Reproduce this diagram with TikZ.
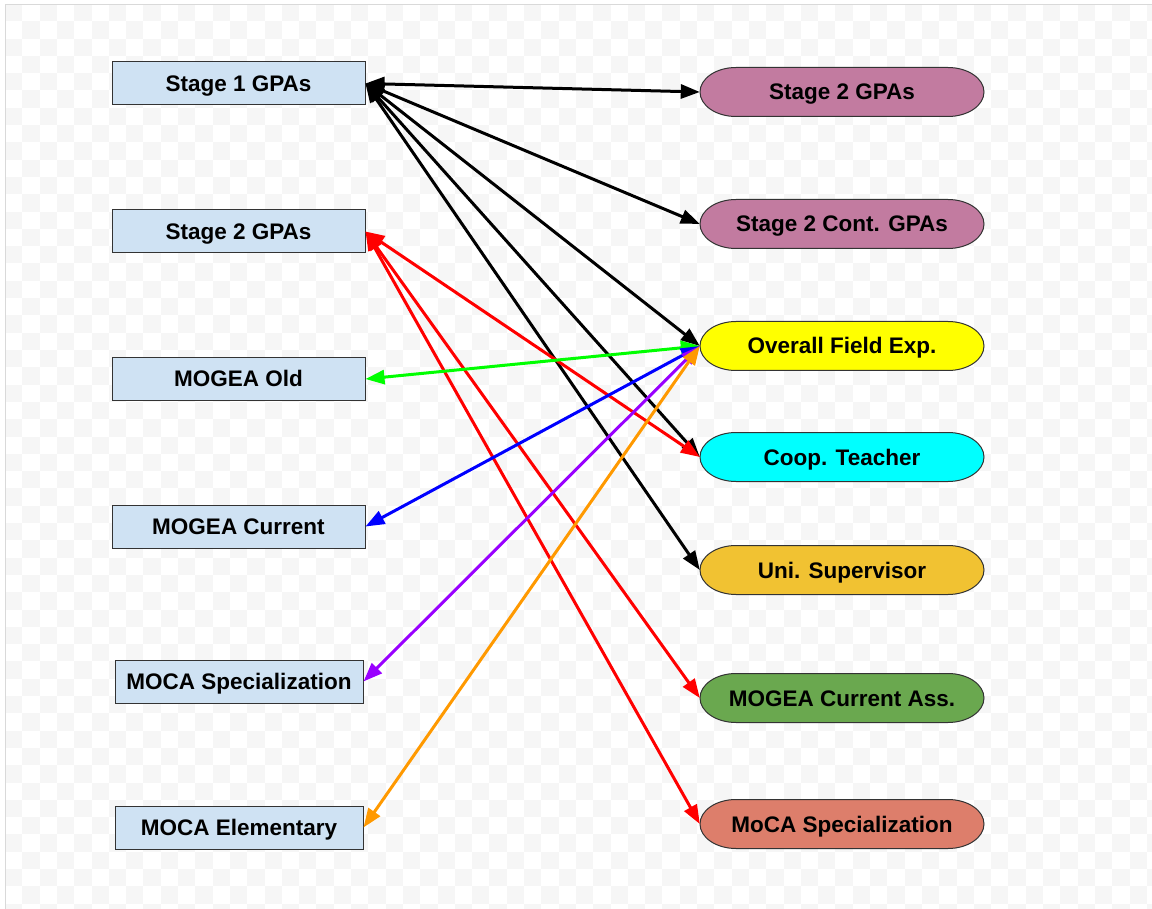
\documentclass[tikz,border=0pt]{standalone}
\usepackage{fontspec}
\setmainfont{Liberation Sans}
\usetikzlibrary{arrows.meta}
\definecolor{boxblue}{HTML}{CFE2F3}
\definecolor{mauve}{HTML}{C27BA0}
\definecolor{ylw}{HTML}{FFFF00}
\definecolor{cyn}{HTML}{00FFFF}
\definecolor{gold}{HTML}{F1C232}
\definecolor{grn}{HTML}{6AA84F}
\definecolor{salmon}{HTML}{DD7E6B}
\definecolor{edgegray}{HTML}{333333}
\definecolor{checker}{HTML}{F6F6F6}
\definecolor{framegray}{HTML}{D9D9D9}
\definecolor{purp}{HTML}{9900FF}
\definecolor{orng}{HTML}{FF9900}
\definecolor{grnline}{HTML}{00FF00}
\definecolor{blueline}{HTML}{0000FF}
\definecolor{redline}{HTML}{FF0000}
\tikzset{
  lbl/.style={inner sep=0pt, text height=16pt, text depth=0pt,
    font=\fontsize{22.5}{25}\selectfont\bfseries},
  lbox/.style={lbl, draw=edgegray, line width=1pt, fill=boxblue, minimum width=253pt,
    minimum height=43pt},
  lboxs/.style={lbox, minimum width=248pt},
  pill/.style={lbl, minimum width=284pt, minimum height=49pt},
  pillshape/.style={draw=edgegray, line width=1pt},
  link/.style={line width=3pt, {Triangle[length=19pt,width=14pt]}-{Triangle[length=19pt,width=14pt]}},
}
% pill-shaped node: name, x, y, fill colour, text
\newcommand{\pillnode}[5]{%
  \filldraw[pillshape, fill=#4] (#2-106,#3-24.5) -- (#2+106,#3-24.5)
    arc[start angle=90, end angle=-90, x radius=36pt, y radius=24.5pt]
    -- (#2-106,#3+24.5)
    arc[start angle=270, end angle=90, x radius=36pt, y radius=24.5pt] -- cycle;
  \node[pill] (#1) at (#2,#3) {#5};%
}
\begin{document}
\begin{tikzpicture}[x=1pt,y=-1pt]
\useasboundingbox (0,0) rectangle (1152,909);
\fill[white] (0,0) rectangle (1152,909);
% checkerboard background
\foreach \i in {0,...,66}{
  \foreach \j in {0,...,52}{
    \pgfmathtruncatemacro{\cpar}{mod(\i+\j,2)}
    \ifnum\cpar=0
      \fill[checker] ({5+\i*17.3},{4+\j*17.3}) rectangle ({5+(\i+1)*17.3},{4+(\j+1)*17.3});
    \fi
  }
}
\fill[white] (0,0) rectangle (1152,4);
\fill[white] (0,0) rectangle (5,909);
\draw[framegray, line width=1pt] (5,909) -- (5,4.5) -- (1152,4.5);

% left boxes
\node[lbox] (l1) at (238.5,83.5) {Stage 1 GPAs};
\node[lbox] (l2) at (238.5,231.5) {Stage 2 GPAs};
\node[lbox] (l3) at (238.5,379) {MOGEA Old};
\node[lbox] (l4) at (238.5,526.5) {MOGEA Current};
\node[lboxs] (l5) at (239,681.5) {MOCA Specialization};
\node[lboxs] (l6) at (239,827.5) {MOCA Elementary};

% right pills
\pillnode{r1}{842}{92}{mauve}{Stage 2 GPAs}
\pillnode{r2}{842}{224}{mauve}{Stage 2 Cont. GPAs}
\pillnode{r3}{842}{346}{ylw}{Overall Field Exp.}
\pillnode{r4}{842}{457}{cyn}{Coop. Teacher}
\pillnode{r5}{842}{570}{gold}{Uni. Supervisor}
\pillnode{r6}{842}{698}{grn}{MOGEA Current Ass.}
\pillnode{r7}{842}{824}{salmon}{MoCA Specialization}

% black links
\draw[link, black] (l1.east) -- (r1.west);
\draw[link, black] (l1.east) -- (r2.west);
\draw[link, black] (l1.east) -- (r3.west);
\draw[link, black] (l1.east) -- (r4.west);
\draw[link, black] (l1.east) -- (r5.west);
% red links
\draw[link, redline] (l2.east) -- (r4.west);
\draw[link, redline] (l2.east) -- (r6.west);
\draw[link, redline] (l2.east) -- (r7.west);
% others to Overall Field Exp.
\draw[link, grnline] (l3.east) -- (r3.west);
\draw[link, blueline] (l4.east) -- (r3.west);
\draw[link, purp] (l5.east) -- (r3.west);
\draw[link, orng] (l6.east) -- (r3.west);
\end{tikzpicture}
\end{document}
